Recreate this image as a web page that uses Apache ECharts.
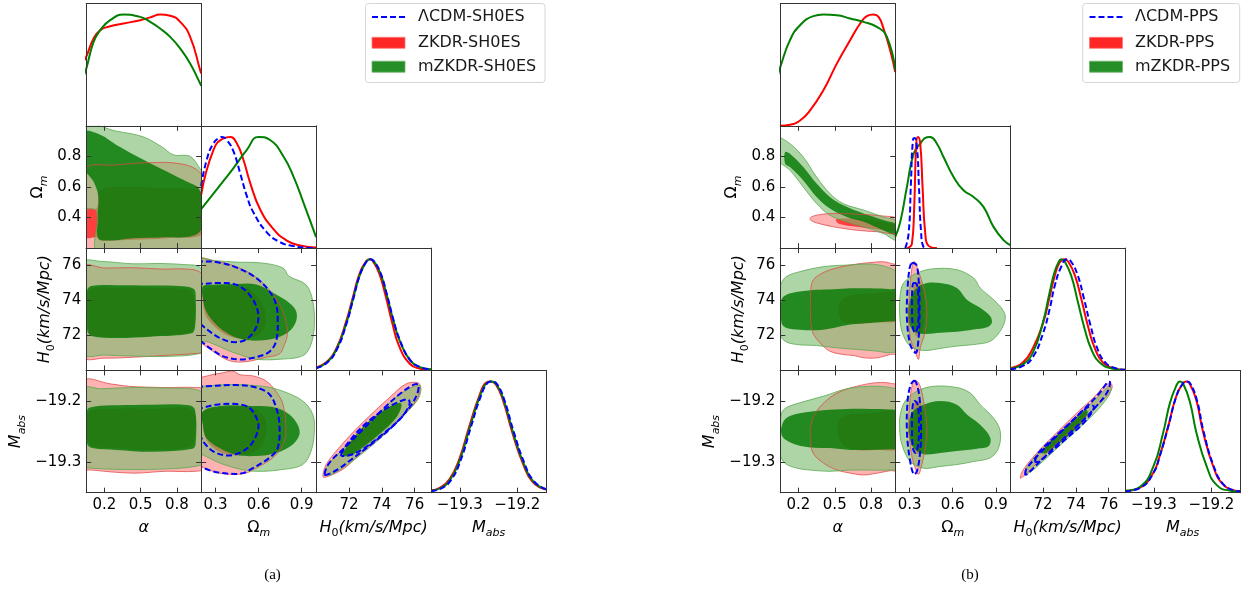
<!DOCTYPE html>
<html lang="en">
<head>
<meta charset="UTF-8">
<title>corner plots</title>
<script src="https://cdn.jsdelivr.net/npm/echarts@6/dist/echarts.min.js"></script>
<style>
  html, body { margin: 0; padding: 0; background: #fff; }
  #main { width: 1252px; height: 590px; }
</style>
</head>
<body>
<div id="main"></div>
<script type="text/javascript">
// ---------- axes: ranges and ticks ----------
var alphaRange = [0.05, 1.0], alphaTicks = [0.2, 0.5, 0.8];
var omRange = [0.2, 1.0], omTicksX = [0.3, 0.6, 0.9], omTicksY = [0.4, 0.6, 0.8];
var h0Range = [70, 77], h0Ticks = [72, 74, 76];
var mRange = [-19.35, -19.15], mTicks = [-19.3, -19.2];

// ---------- 1D posteriors, panel (a) ----------
var a_alpha_r = [[0.03,0.58],[0.05,0.62],[0.111,0.785],[0.166,0.86],[0.248,0.895],[0.358,0.92],[0.496,0.95],[0.579,0.975],[0.661,1.0],[0.744,0.99],[0.827,0.935],[0.909,0.8],[0.992,0.5],[1.0,0.47]];
var a_alpha_g = [[0.03,0.45],[0.05,0.51],[0.111,0.755],[0.166,0.86],[0.248,0.95],[0.358,1.0],[0.496,0.98],[0.579,0.935],[0.661,0.875],[0.744,0.8],[0.827,0.695],[0.909,0.56],[0.992,0.38],[1.0,0.36]];
var a_om_r = [[0.2,0.48],[0.286,0.884],[0.355,0.987],[0.402,1.0],[0.448,0.943],[0.494,0.795],[0.541,0.587],[0.61,0.35],[0.703,0.172],[0.796,0.068],[0.889,0.024],[1.0,0.006]];
var a_om_g = [[0.2,0.35],[0.309,0.528],[0.425,0.72],[0.518,0.884],[0.599,1.0],[0.68,0.972],[0.773,0.824],[0.842,0.646],[0.912,0.409],[1.0,0.098]];
var a_om_b = [[0.2,0.56],[0.239,0.795],[0.286,0.943],[0.332,0.996],[0.345,1.0],[0.379,0.97],[0.425,0.869],[0.471,0.676],[0.518,0.468],[0.564,0.32],[0.657,0.142],[0.75,0.053],[0.842,0.018],[0.935,0.003],[1.0,0.0]];
var a_h0_r = [[70,0.025],[70.63,0.075],[71.24,0.2],[71.85,0.45],[72.26,0.67],[72.67,0.88],[73.07,0.985],[73.25,1.0],[73.45,0.985],[73.85,0.87],[74.25,0.66],[74.65,0.42],[75.05,0.22],[75.7,0.06],[76.33,0.015],[77,0.003]];
var a_h0_g = [[70,0.02],[70.63,0.07],[71.24,0.19],[71.85,0.43],[72.26,0.65],[72.67,0.86],[73.07,0.98],[73.3,1.0],[73.5,0.985],[73.9,0.88],[74.3,0.68],[74.7,0.45],[75.11,0.26],[75.72,0.09],[76.33,0.03],[77,0.01]];
var a_h0_b = [[70,0.02],[70.63,0.065],[71.24,0.18],[71.85,0.42],[72.26,0.64],[72.67,0.86],[73.07,0.98],[73.3,1.0],[73.5,0.985],[73.9,0.885],[74.3,0.69],[74.7,0.46],[75.11,0.27],[75.72,0.095],[76.33,0.03],[77,0.01]];
var a_m_r = [[-19.35,0.02],[-19.335,0.043],[-19.318,0.12],[-19.301,0.3],[-19.283,0.605],[-19.266,0.872],[-19.254,0.99],[-19.246,1.0],[-19.237,0.972],[-19.225,0.835],[-19.208,0.53],[-19.19,0.26],[-19.173,0.096],[-19.15,0.028]];
var a_m_g = [[-19.35,0.018],[-19.334,0.04],[-19.317,0.115],[-19.3,0.295],[-19.282,0.597],[-19.265,0.868],[-19.253,0.988],[-19.245,1.0],[-19.236,0.973],[-19.224,0.838],[-19.207,0.536],[-19.189,0.265],[-19.172,0.099],[-19.15,0.03]];
var a_m_b = [[-19.35,0.016],[-19.333,0.037],[-19.316,0.108],[-19.299,0.285],[-19.281,0.585],[-19.264,0.86],[-19.252,0.985],[-19.244,1.0],[-19.235,0.975],[-19.223,0.842],[-19.206,0.545],[-19.188,0.272],[-19.171,0.103],[-19.15,0.032]];

// ---------- 1D posteriors, panel (b) ----------
var b_alpha_r = [[0.05,0.0],[0.13,0.009],[0.213,0.048],[0.296,0.138],[0.406,0.319],[0.517,0.559],[0.627,0.77],[0.71,0.92],[0.765,0.986],[0.82,1.0],[0.862,0.98],[0.903,0.875],[0.958,0.68],[1.0,0.484]];
var b_alpha_g = [[0.03,0.45],[0.05,0.529],[0.13,0.77],[0.213,0.905],[0.323,0.986],[0.406,1.0],[0.517,0.995],[0.627,0.965],[0.738,0.935],[0.848,0.89],[0.931,0.8],[1.0,0.5]];
var b_om_r = [[0.281,0.0],[0.316,0.04],[0.332,0.37],[0.346,0.94],[0.358,1.0],[0.374,0.94],[0.39,0.55],[0.409,0.13],[0.432,0.02],[0.49,0.0]];
var b_om_g = [[0.2,0.102],[0.235,0.236],[0.281,0.55],[0.328,0.849],[0.374,0.939],[0.42,0.998],[0.443,1.0],[0.49,0.939],[0.536,0.819],[0.606,0.64],[0.675,0.52],[0.745,0.46],[0.814,0.371],[0.884,0.191],[0.954,0.072],[1.0,0.027]];
var b_om_b = [[0.27,0.0],[0.293,0.13],[0.309,0.58],[0.323,0.97],[0.335,0.99],[0.351,0.91],[0.365,0.55],[0.379,0.16],[0.397,0.01],[0.42,0.0]];
var b_h0_r = [[70,0.02],[70.77,0.07],[71.38,0.2],[71.99,0.42],[72.4,0.66],[72.71,0.85],[73.01,0.97],[73.3,1.0],[73.55,0.975],[73.95,0.85],[74.35,0.63],[74.75,0.39],[75.15,0.2],[75.65,0.07],[76.3,0.02],[77,0.005]];
var b_h0_g = [[70,0.015],[70.77,0.055],[71.38,0.16],[71.99,0.43],[72.4,0.7],[72.71,0.89],[73.01,0.99],[73.11,1.0],[73.32,0.98],[73.72,0.85],[74.13,0.61],[74.54,0.37],[74.94,0.19],[75.45,0.07],[76.27,0.015],[77,0.003]];
var b_h0_b = [[70,0.01],[70.77,0.04],[71.38,0.12],[71.99,0.33],[72.4,0.55],[72.71,0.76],[73.1,0.93],[73.45,1.0],[73.7,0.98],[74.1,0.86],[74.5,0.64],[74.9,0.4],[75.3,0.2],[75.8,0.07],[76.4,0.02],[77,0.005]];
var b_m_r = [[-19.35,0.015],[-19.324,0.045],[-19.301,0.18],[-19.29,0.33],[-19.275,0.6],[-19.261,0.87],[-19.25,0.98],[-19.244,1.0],[-19.238,0.985],[-19.226,0.83],[-19.215,0.56],[-19.197,0.24],[-19.18,0.075],[-19.16,0.02],[-19.15,0.012]];
var b_m_g = [[-19.35,0.018],[-19.324,0.054],[-19.301,0.235],[-19.284,0.536],[-19.272,0.808],[-19.26,0.973],[-19.255,1.0],[-19.249,0.98],[-19.237,0.81],[-19.226,0.54],[-19.208,0.235],[-19.191,0.07],[-19.167,0.018],[-19.15,0.01]];
var b_m_b = [[-19.35,0.014],[-19.324,0.043],[-19.301,0.175],[-19.29,0.325],[-19.275,0.595],[-19.261,0.865],[-19.25,0.978],[-19.243,1.0],[-19.237,0.985],[-19.225,0.83],[-19.214,0.56],[-19.196,0.24],[-19.179,0.075],[-19.16,0.02],[-19.15,0.012]];

// ---------- 2D contours, panel (a): [x, y] in parameter units ----------
var a_aO_r2 = [[0.03,0.71],[0.3,0.744],[0.58,0.759],[0.8,0.755],[0.95,0.72],[1.02,0.65],[1.02,0.18],[0.03,0.18]];
var a_aO_r1 = [[0.03,0.455],[0.136,0.46],[0.166,0.58],[0.44,0.6],[0.72,0.59],[0.97,0.58],[1.02,0.52],[1.02,0.3],[0.72,0.265],[0.44,0.255],[0.166,0.25],[0.136,0.27],[0.03,0.27]];
var a_aO_g2 = [[0.03,1.0],[0.3,0.965],[0.52,0.928],[0.68,0.86],[0.77,0.81],[0.91,0.8],[0.99,0.72],[1.02,0.68],[1.02,0.18],[0.15,0.18],[0.145,0.4],[0.12,0.455],[0.03,0.465]];
var a_aO_g1 = [[0.03,0.96],[0.17,0.94],[0.3,0.875],[0.52,0.78],[0.72,0.7],[0.88,0.635],[0.98,0.59],[1.02,0.47],[1.0,0.32],[0.91,0.276],[0.66,0.27],[0.44,0.265],[0.25,0.25],[0.15,0.265],[0.145,0.41],[0.15,0.54],[0.11,0.635],[0.03,0.73]];

var a_aH_r2 = [[0.03,75.92],[0.2,75.86],[0.44,75.88],[0.66,75.8],[0.88,75.8],[0.98,75.67],[1.02,75.3],[1.02,71.1],[0.95,70.97],[0.7,70.86],[0.4,70.74],[0.2,70.7],[0.03,70.78]];
var a_aH_r1 = [[0.07,74.55],[0.3,74.72],[0.6,74.72],[0.9,74.6],[0.94,74.2],[0.94,72.5],[0.9,72.15],[0.6,71.97],[0.3,71.92],[0.09,72.02],[0.07,72.4]];
var a_aH_g2 = [[0.03,76.18],[0.17,76.24],[0.44,76.1],[0.66,76.12],[0.88,76.05],[0.98,75.95],[1.02,75.5],[1.02,71.3],[0.98,70.95],[0.7,70.8],[0.44,70.82],[0.2,70.88],[0.03,70.95]];
var a_aH_g1 = [[0.058,74.6],[0.1,74.85],[0.3,74.88],[0.58,74.86],[0.85,74.82],[0.94,74.66],[0.955,74.3],[0.95,72.5],[0.92,72.12],[0.58,71.93],[0.3,71.86],[0.1,71.96],[0.058,72.3]];

var a_aM_r2 = [[0.03,-19.168],[0.25,-19.172],[0.4,-19.176],[0.7,-19.178],[0.95,-19.178],[1.02,-19.182],[1.02,-19.31],[0.95,-19.315],[0.7,-19.315],[0.44,-19.318],[0.1,-19.313],[0.03,-19.31]];
var a_aM_r1 = [[0.065,-19.22],[0.3,-19.213],[0.6,-19.213],[0.93,-19.215],[0.945,-19.26],[0.9,-19.275],[0.6,-19.28],[0.3,-19.277],[0.08,-19.27]];
var a_aM_g2 = [[0.03,-19.18],[0.17,-19.18],[0.44,-19.178],[0.72,-19.179],[0.95,-19.181],[1.02,-19.19],[1.02,-19.3],[0.95,-19.307],[0.72,-19.311],[0.44,-19.312],[0.1,-19.31],[0.03,-19.305]];
var a_aM_g1 = [[0.058,-19.215],[0.12,-19.209],[0.3,-19.207],[0.6,-19.206],[0.9,-19.207],[0.95,-19.215],[0.955,-19.27],[0.93,-19.278],[0.6,-19.283],[0.3,-19.28],[0.1,-19.277],[0.058,-19.27]];

var a_OH_r2 = [[0.18,76.3],[0.3,76.25],[0.44,75.95],[0.58,75.35],[0.68,74.55],[0.75,73.7],[0.79,72.8],[0.8,72.05],[0.78,71.48],[0.745,70.95],[0.65,70.75],[0.513,70.5],[0.397,70.55],[0.281,71.1],[0.212,71.5],[0.18,71.7]];
var a_OH_r1 = [[0.223,74.62],[0.351,74.81],[0.513,74.72],[0.617,73.96],[0.652,73.0],[0.617,72.15],[0.513,71.81],[0.397,71.96],[0.304,72.43],[0.235,73.1],[0.212,73.96]];
var a_OH_g2 = [[0.18,76.33],[0.3,76.28],[0.44,76.2],[0.63,76.14],[0.77,75.86],[0.81,75.4],[0.93,74.9],[0.977,73.96],[0.988,72.6],[0.965,71.5],[0.91,70.85],[0.75,70.64],[0.58,70.64],[0.47,70.9],[0.4,71.1],[0.26,71.6],[0.18,71.8]];
var a_OH_g1 = [[0.212,74.81],[0.304,74.91],[0.443,74.95],[0.583,74.91],[0.722,74.34],[0.814,73.86],[0.861,73.39],[0.861,72.82],[0.814,72.24],[0.722,71.86],[0.606,71.71],[0.49,71.77],[0.397,72.05],[0.304,72.62],[0.235,73.39],[0.212,74.15]];
var a_OH_b2 = [[0.17,76.26],[0.2,76.24],[0.304,76.2],[0.443,75.9],[0.583,75.29],[0.675,74.53],[0.722,73.77],[0.733,72.81],[0.722,71.67],[0.675,71.07],[0.583,70.76],[0.467,70.63],[0.35,70.82],[0.258,71.29],[0.2,71.67],[0.17,71.9]];
var a_OH_b1 = [[0.17,74.97],[0.2,74.95],[0.304,75.0],[0.443,74.91],[0.536,74.34],[0.594,73.39],[0.587,72.53],[0.513,71.77],[0.42,71.62],[0.328,71.86],[0.258,72.24],[0.2,72.62],[0.17,72.85]];

var a_OM_r2 = [[0.18,-19.167],[0.26,-19.158],[0.35,-19.154],[0.42,-19.151],[0.47,-19.157],[0.56,-19.159],[0.65,-19.167],[0.72,-19.184],[0.77,-19.206],[0.79,-19.249],[0.77,-19.271],[0.7,-19.293],[0.58,-19.31],[0.51,-19.318],[0.4,-19.32],[0.28,-19.315],[0.18,-19.3]];
var a_OM_r1 = [[0.223,-19.217],[0.397,-19.21],[0.559,-19.212],[0.641,-19.228],[0.652,-19.255],[0.606,-19.277],[0.513,-19.288],[0.397,-19.288],[0.304,-19.28],[0.235,-19.263],[0.212,-19.239]];
var a_OM_g2 = [[0.18,-19.176],[0.212,-19.176],[0.397,-19.173],[0.629,-19.176],[0.768,-19.184],[0.907,-19.2],[0.977,-19.222],[0.988,-19.249],[0.965,-19.282],[0.907,-19.304],[0.768,-19.312],[0.583,-19.315],[0.443,-19.31],[0.304,-19.299],[0.212,-19.288],[0.18,-19.285]];
var a_OM_g1 = [[0.212,-19.217],[0.351,-19.208],[0.513,-19.208],[0.699,-19.21],[0.814,-19.222],[0.872,-19.239],[0.884,-19.255],[0.838,-19.271],[0.722,-19.285],[0.583,-19.29],[0.443,-19.288],[0.328,-19.277],[0.235,-19.26],[0.212,-19.239]];
var a_OM_b2 = [[0.17,-19.177],[0.235,-19.176],[0.443,-19.174],[0.583,-19.178],[0.675,-19.189],[0.722,-19.211],[0.745,-19.239],[0.733,-19.277],[0.675,-19.293],[0.559,-19.31],[0.49,-19.318],[0.397,-19.319],[0.281,-19.315],[0.2,-19.308],[0.17,-19.305]];
var a_OM_b1 = [[0.17,-19.213],[0.212,-19.211],[0.304,-19.206],[0.443,-19.205],[0.536,-19.211],[0.594,-19.233],[0.594,-19.249],[0.548,-19.271],[0.467,-19.285],[0.374,-19.289],[0.281,-19.282],[0.223,-19.269],[0.2,-19.26],[0.17,-19.25]];

var a_HM_r2 = [[70.41,-19.323],[70.61,-19.304],[71.32,-19.279],[72.33,-19.249],[73.55,-19.217],[74.57,-19.192],[75.48,-19.172],[76.19,-19.17],[76.35,-19.177],[76.09,-19.2],[75.17,-19.228],[73.96,-19.258],[72.74,-19.285],[71.73,-19.31],[71.02,-19.32],[70.51,-19.325]];
var a_HM_r1 = [[71.7,-19.283],[72.4,-19.257],[73.4,-19.23],[74.4,-19.212],[75.0,-19.205],[75.1,-19.21],[74.8,-19.228],[73.9,-19.251],[72.9,-19.273],[72.1,-19.287],[71.75,-19.288]];
var a_HM_g2 = [[70.51,-19.316],[70.91,-19.299],[71.93,-19.271],[73.15,-19.239],[74.36,-19.206],[75.38,-19.184],[76.29,-19.174],[76.39,-19.181],[76.19,-19.198],[75.38,-19.222],[74.16,-19.255],[72.94,-19.283],[71.93,-19.304],[71.12,-19.318],[70.71,-19.322]];
var a_HM_g1 = [[71.62,-19.285],[72.33,-19.258],[73.35,-19.23],[74.36,-19.211],[75.07,-19.203],[75.21,-19.208],[74.87,-19.228],[73.96,-19.252],[72.94,-19.274],[72.13,-19.289],[71.72,-19.29]];
var a_HM_b2 = [[70.51,-19.32],[70.81,-19.301],[71.72,-19.277],[72.94,-19.244],[74.16,-19.211],[75.17,-19.187],[75.99,-19.173],[76.23,-19.174],[76.15,-19.189],[75.68,-19.211],[74.57,-19.244],[73.35,-19.271],[72.13,-19.296],[71.32,-19.312],[70.71,-19.32]];
var a_HM_b1 = [[71.52,-19.288],[71.93,-19.269],[72.94,-19.239],[74.16,-19.214],[75.17,-19.2],[75.62,-19.198],[75.68,-19.206],[75.17,-19.228],[74.16,-19.252],[72.94,-19.277],[72.13,-19.288],[71.62,-19.29]];

// ---------- 2D contours, panel (b) ----------
var b_aO_r2 = [[0.3,0.4],[0.35,0.415],[0.46,0.426],[0.68,0.422],[0.9,0.41],[1.02,0.39],[1.02,0.3],[0.85,0.307],[0.68,0.317],[0.49,0.339],[0.35,0.365],[0.3,0.383]];
var b_aO_r1 = [[0.51,0.387],[0.63,0.393],[0.79,0.383],[0.96,0.357],[1.02,0.343],[1.02,0.313],[0.85,0.322],[0.68,0.339],[0.54,0.357]];
var b_aO_g2 = [[0.03,0.92],[0.13,0.883],[0.24,0.796],[0.35,0.665],[0.46,0.557],[0.57,0.491],[0.74,0.448],[0.9,0.404],[1.02,0.37],[1.02,0.25],[0.9,0.296],[0.74,0.339],[0.6,0.372],[0.46,0.415],[0.35,0.491],[0.24,0.6],[0.13,0.709],[0.03,0.78]];
var b_aO_g1 = [[0.09,0.828],[0.13,0.817],[0.24,0.73],[0.35,0.622],[0.46,0.535],[0.57,0.48],[0.74,0.426],[0.9,0.383],[1.02,0.35],[1.02,0.285],[0.9,0.317],[0.74,0.372],[0.6,0.404],[0.46,0.459],[0.35,0.535],[0.24,0.643],[0.13,0.73],[0.09,0.752]];

var b_aH_r2 = [[0.31,74.99],[0.35,75.37],[0.46,75.75],[0.63,76.03],[0.79,76.17],[0.9,76.22],[0.96,76.13],[1.02,75.94],[1.02,71.0],[0.96,70.91],[0.85,70.72],[0.74,70.72],[0.66,70.85],[0.57,70.91],[0.46,71.1],[0.38,71.57],[0.32,72.14],[0.3,73.09],[0.3,74.23]];
var b_aH_r1 = [[0.53,73.38],[0.56,74.04],[0.66,74.33],[0.82,74.42],[1.02,74.38],[1.02,72.9],[0.85,72.75],[0.68,72.67],[0.57,72.81]];
var b_aH_g2 = [[0.045,74.6],[0.06,75.0],[0.1,75.37],[0.21,75.65],[0.41,75.94],[0.6,76.03],[0.79,76.09],[0.9,75.98],[0.99,75.75],[1.02,75.5],[1.02,71.2],[0.96,71.01],[0.84,71.11],[0.68,71.2],[0.52,71.29],[0.35,71.42],[0.19,71.48],[0.09,71.67],[0.045,72.14]];
var b_aH_g1 = [[0.06,74.04],[0.1,74.33],[0.21,74.51],[0.35,74.61],[0.49,74.65],[0.63,74.7],[0.79,74.7],[0.96,74.65],[1.02,74.6],[1.02,72.9],[0.96,72.81],[0.79,72.71],[0.63,72.62],[0.49,72.43],[0.35,72.3],[0.21,72.33],[0.1,72.43],[0.06,72.71]];

var b_aM_r2 = [[0.3,-19.263],[0.3,-19.242],[0.34,-19.22],[0.41,-19.203],[0.52,-19.187],[0.68,-19.176],[0.85,-19.17],[0.96,-19.171],[1.02,-19.176],[1.02,-19.313],[0.96,-19.314],[0.85,-19.318],[0.74,-19.321],[0.63,-19.318],[0.52,-19.313],[0.41,-19.302],[0.32,-19.285]];
var b_aM_r1 = [[0.52,-19.247],[0.54,-19.231],[0.63,-19.222],[0.79,-19.22],[1.02,-19.22],[1.02,-19.277],[0.85,-19.28],[0.68,-19.28],[0.57,-19.272]];
var b_aM_g2 = [[0.045,-19.25],[0.06,-19.22],[0.1,-19.211],[0.21,-19.203],[0.41,-19.192],[0.6,-19.18],[0.79,-19.176],[0.96,-19.178],[1.02,-19.184],[1.02,-19.31],[0.96,-19.313],[0.79,-19.313],[0.63,-19.313],[0.46,-19.315],[0.3,-19.313],[0.19,-19.31],[0.09,-19.302],[0.045,-19.285]];
var b_aM_g1 = [[0.06,-19.242],[0.1,-19.228],[0.21,-19.22],[0.41,-19.215],[0.6,-19.213],[0.79,-19.213],[0.96,-19.214],[1.02,-19.217],[1.02,-19.277],[0.96,-19.279],[0.79,-19.28],[0.63,-19.28],[0.46,-19.277],[0.3,-19.276],[0.19,-19.272],[0.09,-19.263],[0.06,-19.255]];

var b_OH_r2 = [[0.332,76.24],[0.362,75.67],[0.397,74.72],[0.42,73.58],[0.409,72.24],[0.374,71.29],[0.362,70.63],[0.339,71.1],[0.304,71.86],[0.293,73.39],[0.304,74.91],[0.316,75.86]];
var b_OH_r1 = [[0.339,75.0],[0.374,75.1],[0.397,74.34],[0.402,73.0],[0.385,72.24],[0.351,71.96],[0.328,72.43],[0.323,74.34]];
var b_OH_g2 = [[0.235,74.34],[0.258,75.0],[0.351,75.57],[0.467,75.82],[0.629,75.76],[0.745,75.29],[0.791,74.72],[0.884,74.05],[0.954,73.39],[0.965,72.91],[0.93,72.24],[0.861,71.67],[0.745,71.48],[0.629,71.39],[0.513,71.26],[0.397,71.14],[0.304,71.39],[0.246,72.24],[0.23,73.39]];
var b_OH_g1 = [[0.293,73.67],[0.328,74.53],[0.397,74.95],[0.513,75.0],[0.629,74.72],[0.699,74.05],[0.791,73.58],[0.861,73.1],[0.872,72.72],[0.838,72.47],[0.745,72.34],[0.629,72.21],[0.513,72.15],[0.397,72.09],[0.328,72.24],[0.293,72.82]];
var b_OH_b2 = [[0.316,76.14],[0.346,76.05],[0.362,75.29],[0.369,73.77],[0.366,72.24],[0.351,71.1],[0.339,71.01],[0.304,71.48],[0.281,73.0],[0.286,74.72],[0.3,75.86]];
var b_OH_b1 = [[0.328,75.0],[0.351,74.91],[0.362,73.77],[0.358,72.62],[0.339,72.15],[0.323,72.43],[0.316,73.77],[0.32,74.81]];

var b_OM_r2 = [[0.339,-19.166],[0.369,-19.173],[0.397,-19.2],[0.42,-19.244],[0.409,-19.277],[0.385,-19.304],[0.362,-19.32],[0.339,-19.31],[0.309,-19.282],[0.293,-19.239],[0.304,-19.195],[0.323,-19.17]];
var b_OM_r1 = [[0.339,-19.2],[0.379,-19.203],[0.397,-19.233],[0.393,-19.271],[0.369,-19.287],[0.339,-19.282],[0.323,-19.249],[0.328,-19.217]];
var b_OM_g2 = [[0.235,-19.222],[0.27,-19.2],[0.351,-19.184],[0.467,-19.176],[0.629,-19.178],[0.722,-19.187],[0.791,-19.206],[0.884,-19.228],[0.93,-19.249],[0.919,-19.277],[0.861,-19.293],[0.745,-19.299],[0.629,-19.304],[0.513,-19.307],[0.397,-19.31],[0.304,-19.299],[0.246,-19.271],[0.23,-19.244]];
var b_OM_g1 = [[0.293,-19.244],[0.316,-19.219],[0.397,-19.206],[0.513,-19.2],[0.629,-19.206],[0.699,-19.222],[0.791,-19.239],[0.861,-19.26],[0.849,-19.274],[0.768,-19.278],[0.629,-19.282],[0.513,-19.285],[0.397,-19.287],[0.328,-19.277],[0.3,-19.26]];
var b_OM_b2 = [[0.328,-19.167],[0.346,-19.17],[0.369,-19.195],[0.379,-19.244],[0.374,-19.282],[0.351,-19.315],[0.328,-19.32],[0.3,-19.293],[0.281,-19.249],[0.286,-19.2],[0.304,-19.176]];
var b_OM_b1 = [[0.332,-19.2],[0.355,-19.205],[0.365,-19.239],[0.36,-19.271],[0.342,-19.285],[0.323,-19.277],[0.316,-19.239],[0.32,-19.211]];

var b_HM_r2 = [[70.61,-19.326],[70.81,-19.312],[71.72,-19.282],[72.94,-19.249],[74.16,-19.217],[75.17,-19.192],[75.78,-19.174],[76.15,-19.172],[76.19,-19.18],[75.78,-19.195],[74.77,-19.222],[73.55,-19.252],[72.33,-19.282],[71.32,-19.31],[70.81,-19.323]];
var b_HM_r1 = [[72.0,-19.283],[72.4,-19.267],[73.2,-19.248],[74.0,-19.229],[74.55,-19.216],[74.65,-19.221],[74.3,-19.236],[73.6,-19.255],[72.9,-19.27],[72.25,-19.284]];
var b_HM_g2 = [[70.91,-19.318],[71.12,-19.304],[72.13,-19.274],[73.35,-19.244],[74.57,-19.214],[75.58,-19.187],[75.99,-19.176],[76.15,-19.178],[75.99,-19.192],[75.07,-19.222],[73.75,-19.255],[72.54,-19.285],[71.52,-19.31],[71.12,-19.318]];
var b_HM_g1 = [[71.93,-19.285],[72.33,-19.269],[73.15,-19.249],[73.96,-19.23],[74.57,-19.214],[74.73,-19.219],[74.36,-19.236],[73.65,-19.255],[72.94,-19.271],[72.23,-19.285]];
var b_HM_b2 = [[70.91,-19.32],[71.01,-19.31],[71.93,-19.282],[73.15,-19.249],[74.36,-19.217],[75.38,-19.189],[75.95,-19.169],[76.09,-19.17],[75.88,-19.187],[75.17,-19.211],[74.16,-19.239],[72.94,-19.269],[71.93,-19.296],[71.22,-19.315],[71.01,-19.32]];
var b_HM_b1 = [[71.52,-19.299],[71.72,-19.285],[72.74,-19.258],[73.75,-19.233],[74.67,-19.211],[75.07,-19.208],[75.01,-19.217],[74.36,-19.239],[73.35,-19.263],[72.33,-19.287],[71.72,-19.299]];

// ---------- styling ----------
var FONT = "'DejaVu Sans', sans-serif";
var CELL_W = 114.95, CELL_H = 122.3, TOP = 3.5;
var LINE = { r: '#ff0000', g: '#008000', b: '#0000ff' };
var FILL = { r2: 'rgba(255,0,0,0.3)', r1: 'rgba(255,0,0,0.65)', g2: 'rgba(120,185,105,0.6)', g1: 'rgba(0,120,0,0.8)' };
var EDGE = { r2: 'rgba(225,70,70,0.75)', g2: 'rgba(90,170,80,0.8)' };

var nameRich = {
    it: { fontStyle: 'italic', fontSize: 16, lineHeight: 22, fontFamily: FONT, color: '#000' },
    rm: { fontSize: 16, lineHeight: 22, fontFamily: FONT, color: '#000' },
    subi: { fontStyle: 'italic', fontSize: 11, lineHeight: 12, verticalAlign: 'bottom', fontFamily: FONT, color: '#000' },
    sub: { fontSize: 11, lineHeight: 12, verticalAlign: 'bottom', fontFamily: FONT, color: '#000' }
};
var VARS = {
    alpha: { range: alphaRange, tx: alphaTicks, ty: alphaTicks, name: '{it|α}', gap: 0 },
    om: { range: omRange, tx: omTicksX, ty: omTicksY, name: '{rm|Ω}{subi|m}', gap: 37 },
    h0: { range: h0Range, tx: h0Ticks, ty: h0Ticks, name: '{it|H}{sub|0}{it|(km/s/Mpc)}', gap: 30 },
    m: { range: mRange, tx: mTicks, ty: mTicks, name: '{it|M}{subi|abs}', gap: 59 }
};
var ORDER = ['alpha', 'om', 'h0', 'm'];

var figA = {
    left: 86.2,
    oneD: {
        alpha: [[a_alpha_r, 'r'], [a_alpha_g, 'g']],
        om: [[a_om_r, 'r'], [a_om_g, 'g'], [a_om_b, 'b']],
        h0: [[a_h0_r, 'r'], [a_h0_g, 'g'], [a_h0_b, 'b']],
        m: [[a_m_r, 'r'], [a_m_g, 'g'], [a_m_b, 'b']]
    },
    twoD: {
        'alpha|om': { r2: a_aO_r2, r1: a_aO_r1, g2: a_aO_g2, g1: a_aO_g1 },
        'alpha|h0': { r2: a_aH_r2, r1: a_aH_r1, g2: a_aH_g2, g1: a_aH_g1 },
        'alpha|m': { r2: a_aM_r2, r1: a_aM_r1, g2: a_aM_g2, g1: a_aM_g1 },
        'om|h0': { r2: a_OH_r2, r1: a_OH_r1, g2: a_OH_g2, g1: a_OH_g1, b2: a_OH_b2, b1: a_OH_b1, open: true },
        'om|m': { r2: a_OM_r2, r1: a_OM_r1, g2: a_OM_g2, g1: a_OM_g1, b2: a_OM_b2, b1: a_OM_b1, open: true },
        'h0|m': { r2: a_HM_r2, r1: a_HM_r1, g2: a_HM_g2, g1: a_HM_g1, b2: a_HM_b2, b1: a_HM_b1 }
    }
};
var figB = {
    left: 780.3,
    oneD: {
        alpha: [[b_alpha_r, 'r'], [b_alpha_g, 'g']],
        om: [[b_om_g, 'g'], [b_om_r, 'r'], [b_om_b, 'b']],
        h0: [[b_h0_r, 'r'], [b_h0_g, 'g'], [b_h0_b, 'b']],
        m: [[b_m_r, 'r'], [b_m_g, 'g'], [b_m_b, 'b']]
    },
    twoD: {
        'alpha|om': { r2: b_aO_r2, r1: b_aO_r1, g2: b_aO_g2, g1: b_aO_g1 },
        'alpha|h0': { r2: b_aH_r2, r1: b_aH_r1, g2: b_aH_g2, g1: b_aH_g1 },
        'alpha|m': { r2: b_aM_r2, r1: b_aM_r1, g2: b_aM_g2, g1: b_aM_g1 },
        'om|h0': { r2: b_OH_r2, r1: b_OH_r1, g2: b_OH_g2, g1: b_OH_g1, b2: b_OH_b2, b1: b_OH_b1 },
        'om|m': { r2: b_OM_r2, r1: b_OM_r1, g2: b_OM_g2, g1: b_OM_g1, b2: b_OM_b2, b1: b_OM_b1 },
        'h0|m': { r2: b_HM_r2, r1: b_HM_r1, g2: b_HM_g2, g1: b_HM_g1, b2: b_HM_b2, b1: b_HM_b1 }
    }
};

function fmt(v) { return String(v).replace('-', '\u2212'); }

function makeAxis(pos, gi, range, ticks, showTick, showLabel, name, gap) {
    return {
        type: 'value', gridIndex: gi, position: pos, min: range[0], max: range[1], z: 10,
        axisLine: { show: true, onZero: false, lineStyle: { color: '#333', width: 1 } },
        axisTick: { show: showTick, inside: true, length: 5, lineStyle: { color: '#333' }, customValues: ticks },
        axisLabel: { show: showLabel, customValues: ticks, margin: 5, fontSize: 15, color: '#000', fontFamily: FONT, formatter: fmt },
        splitLine: { show: false },
        name: name || '', nameLocation: 'middle', nameGap: gap,
        nameTextStyle: { fontFamily: FONT, fontSize: 16, color: '#000', rich: nameRich }
    };
}

function shapeSeries(gi, pts, style, closed) {
    return {
        type: 'custom', xAxisIndex: gi * 2, yAxisIndex: gi * 2, clip: true, silent: true,
        data: pts,
        renderItem: function (params, api) {
            if (params.dataIndex !== 0) return null;
            var p = pts.map(function (d) { return api.coord(d); });
            return { type: closed ? 'polygon' : 'polyline', shape: { points: p, smooth: 0.35 }, style: style };
        }
    };
}

var option = { animation: false, grid: [], xAxis: [], yAxis: [], series: [], graphic: [] };

function addFig(fig) {
    for (var r = 0; r < 4; r++) {
        for (var c = 0; c <= r; c++) {
            var gi = option.grid.length;
            option.grid.push({ left: fig.left + c * CELL_W, top: TOP + r * CELL_H, width: CELL_W, height: CELL_H });
            var xv = VARS[ORDER[c]], yv = VARS[ORDER[r]];
            var diag = r === c;
            option.xAxis.push(makeAxis('bottom', gi, xv.range, xv.tx, !diag || r === 3, r === 3, r === 3 ? xv.name : null, 24));
            option.xAxis.push(makeAxis('top', gi, xv.range, xv.tx, !diag, false, null, 0));
            if (diag) {
                option.yAxis.push(makeAxis('left', gi, [0, 1.1], [], false, false, null, 0));
                option.yAxis.push(makeAxis('right', gi, [0, 1.1], [], false, false, null, 0));
                fig.oneD[ORDER[c]].forEach(function (cv) {
                    option.series.push({
                        type: 'line', xAxisIndex: gi * 2, yAxisIndex: gi * 2, data: cv[0],
                        smooth: 0.5, showSymbol: false, silent: true,
                        lineStyle: { color: LINE[cv[1]], width: 2, type: cv[1] === 'b' ? [6, 3] : 'solid' }
                    });
                });
            } else {
                option.yAxis.push(makeAxis('left', gi, yv.range, yv.ty, true, c === 0, c === 0 ? yv.name : null, yv.gap));
                option.yAxis.push(makeAxis('right', gi, yv.range, yv.ty, true, false, null, 0));
                var L = fig.twoD[ORDER[c] + '|' + ORDER[r]];
                ['r2', 'r1', 'g2', 'g1'].forEach(function (k) {
                    option.series.push(shapeSeries(gi, L[k], { fill: FILL[k], stroke: null }, true));
                });
                ['r2', 'g2'].forEach(function (k) {
                    option.series.push(shapeSeries(gi, L[k], { fill: null, stroke: EDGE[k], lineWidth: 1 }, true));
                });
                if (L.b2) {
                    [L.b2, L.b1].forEach(function (pts) {
                        option.series.push(shapeSeries(gi, pts, { fill: null, stroke: LINE.b, lineWidth: 2, lineDash: [6, 3] }, !L.open));
                    });
                }
            }
        }
    }
}
addFig(figA);
addFig(figB);

// legends and captions
function legendBox(x, w, hx, tx, names) {
    var ys = [17, 42.8, 66.7];
    option.graphic.push({ type: 'rect', shape: { x: x, y: 3.5, width: w, height: 79, r: 3 }, style: { fill: '#fff', stroke: '#d6d6d6', lineWidth: 1 }, z: 100 });
    option.graphic.push({ type: 'line', shape: { x1: hx, y1: ys[0], x2: hx + 33, y2: ys[0] }, style: { stroke: LINE.b, lineWidth: 2, lineDash: [6, 3] }, z: 101 });
    option.graphic.push({ type: 'rect', shape: { x: hx, y: ys[1] - 5.5, width: 33, height: 11 }, style: { fill: 'rgba(255,0,0,0.85)', stroke: 'rgba(255,120,120,0.8)', lineWidth: 1 }, z: 101 });
    option.graphic.push({ type: 'rect', shape: { x: hx, y: ys[2] - 5.5, width: 33, height: 11 }, style: { fill: 'rgba(0,122,0,0.85)', stroke: 'rgba(110,180,110,0.8)', lineWidth: 1 }, z: 101 });
    names.forEach(function (n, i) {
        option.graphic.push({ type: 'text', x: tx, y: ys[i], style: { text: n, font: '16px ' + FONT, fill: '#1a1a1a', verticalAlign: 'middle', align: 'left' }, z: 101 });
    });
}
legendBox(365.5, 179.5, 372, 418, ['\u039BCDM-SH0ES', 'ZKDR-SH0ES', 'mZKDR-SH0ES']);
legendBox(1082.7, 157, 1089.5, 1135, ['\u039BCDM-PPS', 'ZKDR-PPS', 'mZKDR-PPS']);
option.graphic.push({ type: 'text', x: 272.5, y: 575, style: { text: '(a)', font: "15px 'Liberation Serif', serif", fill: '#000', align: 'center', verticalAlign: 'middle' } });
option.graphic.push({ type: 'text', x: 970, y: 575, style: { text: '(b)', font: "15px 'Liberation Serif', serif", fill: '#000', align: 'center', verticalAlign: 'middle' } });

var myChart = echarts.init(document.getElementById('main'));
myChart.setOption(option);
</script>
</body>
</html>
